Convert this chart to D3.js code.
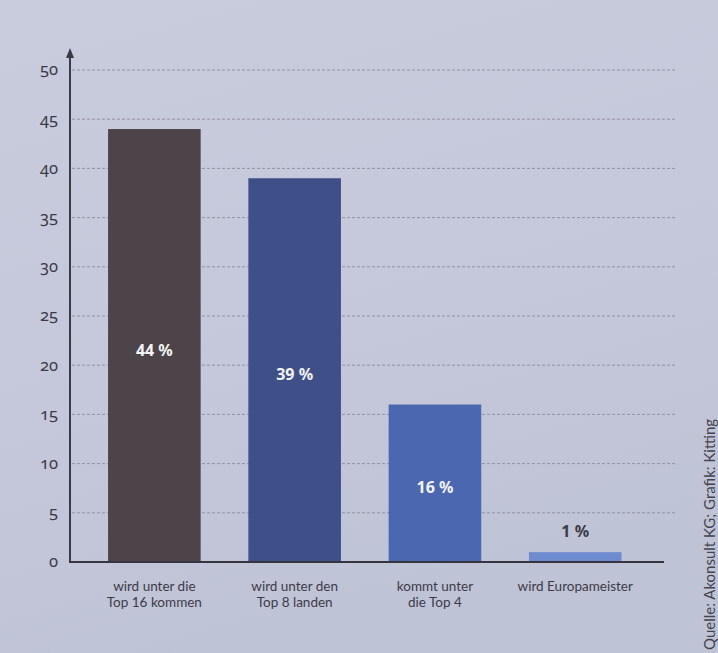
<!DOCTYPE html>
<html>
<head>
<meta charset="utf-8">
<script src="https://cdn.jsdelivr.net/npm/d3@7"></script>
<style>
  html, body { margin: 0; padding: 0; background: #c6c9db; }
  svg { display: block; }
</style>
</head>
<body>
<svg id="chart" width="718" height="653"></svg>
<script>
const categories = [
  ["wird unter die", "Top 16 kommen"],
  ["wird unter den", "Top 8 landen"],
  ["kommt unter", "die Top 4"],
  ["wird Europameister"]
];
const values = [44, 39, 16, 1];
const valueLabels = ["44 %", "39 %", "16 %", "1 %"];
const barColors = ["#4c4448", "#3f5089", "#4a67b0", "#6e8bd0"];
const yTicks = [0, 5, 10, 15, 20, 25, 30, 35, 40, 45, 50];
const source = "Quelle: Akonsult KG; Grafik: Kitting";

const svg = d3.select("#chart");
const W = 718, H = 653;

// background with subtle photo shading
const defs = svg.append("defs");
const grad = defs.append("linearGradient").attr("id", "bg")
  .attr("x1", "0").attr("y1", "0").attr("x2", "0.3").attr("y2", "1");
grad.append("stop").attr("offset", "0").attr("stop-color", "#c9ccdd");
grad.append("stop").attr("offset", "0.6").attr("stop-color", "#c5c8da");
grad.append("stop").attr("offset", "1").attr("stop-color", "#bfc3d6");
svg.append("rect").attr("width", W).attr("height", H).attr("fill", "url(#bg)");

const y = d3.scaleLinear().domain([0, 50]).range([562, 70]);
const x = d3.scaleBand()
  .domain(d3.range(values.length))
  .range([80, 649.6])
  .paddingInner(0.34)
  .paddingOuter(0.2);

const axisX = 70;
const textColor = "#3b3b48";

// gridlines
svg.append("g").selectAll("line")
  .data(yTicks.filter(d => d > 0))
  .join("line")
  .attr("x1", axisX + 2).attr("x2", 676)
  .attr("y1", d => y(d)).attr("y2", d => y(d))
  .attr("stroke", "#8b8d9e")
  .attr("stroke-width", 0.9)
  .attr("stroke-dasharray", "3,2");

// tick labels
svg.append("g").selectAll("text")
  .data(yTicks)
  .join("text")
  .attr("x", 58)
  .attr("y", d => y(d))
  .attr("dy", "0.33em")
  .attr("text-anchor", "end")
  .attr("font-family", "'Noto Sans', sans-serif")
  .style("font-variant-numeric", "oldstyle-nums")
  .attr("font-size", 16.5)
  .attr("fill", textColor)
  .text(d => d);

// bars
svg.append("g").selectAll("rect")
  .data(values)
  .join("rect")
  .attr("x", (d, i) => x(i))
  .attr("width", x.bandwidth())
  .attr("y", d => y(d))
  .attr("height", d => y(0) - y(d))
  .attr("fill", (d, i) => barColors[i]);

// value labels
svg.append("g").selectAll("text")
  .data(values)
  .join("text")
  .attr("x", (d, i) => x(i) + x.bandwidth() / 2)
  .attr("y", d => d > 5 ? (y(d) + y(0)) / 2 + 10 : y(d) - 15)
  .attr("text-anchor", "middle")
  .attr("font-family", "'Noto Sans', sans-serif")
  .attr("font-weight", "bold")
  .attr("font-size", 16)
  .attr("fill", d => d > 5 ? "#f4f4f6" : "#3a3a48")
  .text((d, i) => valueLabels[i]);

// axes lines
svg.append("line")
  .attr("x1", axisX - 1).attr("x2", 664)
  .attr("y1", y(0)).attr("y2", y(0))
  .attr("stroke", "#35353f").attr("stroke-width", 2);
svg.append("line")
  .attr("x1", axisX).attr("x2", axisX)
  .attr("y1", y(0) + 1).attr("y2", 56)
  .attr("stroke", "#3a3a44").attr("stroke-width", 2);
svg.append("path")
  .attr("d", `M${axisX},48 L${axisX - 4},58 L${axisX + 4},58 Z`)
  .attr("fill", "#3a3a44");

// category labels
const cat = svg.append("g").selectAll("text")
  .data(categories)
  .join("text")
  .attr("x", (d, i) => x(i) + x.bandwidth() / 2)
  .attr("y", 591)
  .attr("text-anchor", "middle")
  .attr("font-family", "Lato, 'Noto Sans', sans-serif")
  .attr("font-size", 13.5)
  .attr("fill", textColor);
cat.selectAll("tspan")
  .data(d => d)
  .join("tspan")
  .attr("x", function() { return d3.select(this.parentNode).attr("x"); })
  .attr("dy", (d, i) => i === 0 ? 0 : 16)
  .text(d => d);

// source
svg.append("text")
  .attr("transform", "translate(715,650) rotate(-90)")
  .attr("font-family", "Lato, 'Noto Sans', sans-serif")
  .attr("font-size", 15)
  .attr("fill", "#45454f")
  .text(source);
</script>
</body>
</html>
